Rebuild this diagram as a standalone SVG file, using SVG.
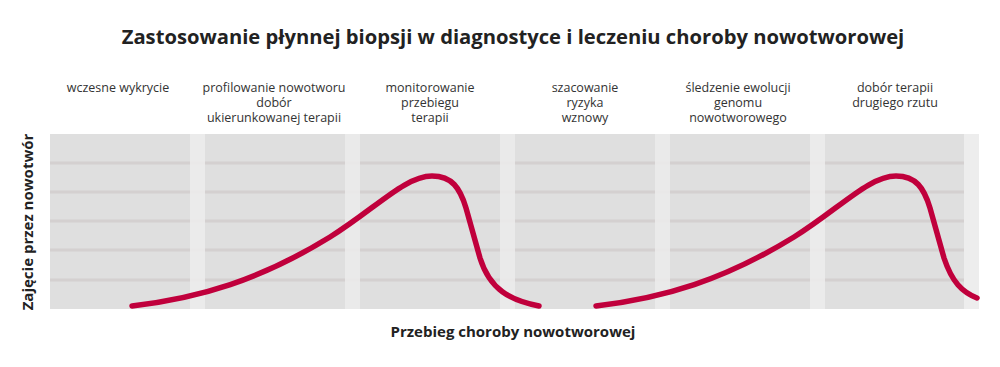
<svg xmlns="http://www.w3.org/2000/svg" width="1000" height="367" viewBox="0 0 1000 367">
<style>
.col{fill:#dfdfdf}
.strip{fill:#ededed}
.grid{stroke:#d4d0d0;stroke-width:3}
.lbl{font-family:"Open Sans","DejaVu Sans",sans-serif;font-size:12.5px;fill:#333;text-anchor:middle}
.ttl{font-family:"Open Sans","DejaVu Sans",sans-serif;font-size:20.2px;font-weight:bold;fill:#222;text-anchor:middle}
.ax{font-family:"Open Sans","DejaVu Sans",sans-serif;font-size:15px;font-weight:bold;fill:#222;text-anchor:middle}
.curve{fill:none;stroke:#c0003c;stroke-width:5.5;stroke-linecap:round;stroke-linejoin:round}
</style>
<rect width="1000" height="367" fill="#fff"/>
<text class="ttl" x="513" y="44">Zastosowanie płynnej biopsji w diagnostyce i leczeniu choroby nowotworowej</text>
<g id="chart">
<rect class="col" x="50" y="134" width="914" height="175"/>
<g>
<line class="grid" x1="50" y1="163" x2="964" y2="163"/>
<line class="grid" x1="50" y1="192" x2="964" y2="192"/>
<line class="grid" x1="50" y1="221" x2="964" y2="221"/>
<line class="grid" x1="50" y1="250" x2="964" y2="250"/>
<line class="grid" x1="50" y1="280" x2="964" y2="280"/>
</g>
<g opacity="0.85">
<rect class="strip" x="190" y="134" width="15" height="175"/>
<rect class="strip" x="345" y="134" width="15" height="175"/>
<rect class="strip" x="500" y="134" width="15" height="175"/>
<rect class="strip" x="655" y="134" width="15" height="175"/>
<rect class="strip" x="810" y="134" width="15" height="175"/>
</g>
<rect class="strip" x="964" y="134" width="15" height="175"/>
</g>
<g id="phase1"><text class="lbl" x="118" y="92">wczesne wykrycie</text></g>
<g id="phase2"><text class="lbl" x="274" y="92">profilowanie nowotworu<tspan x="274" dy="15">dobór</tspan><tspan x="274" dy="15">ukierunkowanej terapii</tspan></text></g>
<g id="phase3"><text class="lbl" x="430" y="92">monitorowanie<tspan x="430" dy="15">przebiegu</tspan><tspan x="430" dy="15">terapii</tspan></text></g>
<g id="phase4"><text class="lbl" x="585" y="92">szacowanie<tspan x="585" dy="15">ryzyka</tspan><tspan x="585" dy="15">wznowy</tspan></text></g>
<g id="phase5"><text class="lbl" x="738" y="92">śledzenie ewolucji<tspan x="738" dy="15">genomu</tspan><tspan x="738" dy="15">nowotworowego</tspan></text></g>
<g id="phase6"><text class="lbl" x="895" y="92">dobór terapii<tspan x="895" dy="15">drugiego rzutu</tspan></text></g>
<g id="connectors">
<path class="curve" d="M132,306 C200,298 260,280 330,237 C375,209 405,176 432,176 C452,176 460,188 466,208 L480,258 C490,290 510,300 539,306"/>
<path class="curve" d="M596,306 C664,298 724,280 794,237 C839,209 869,176 896,176 C916,176 924,188 930,208 L944,258 C952,282 962,292 977,298"/>
</g>
<text class="ax" transform="translate(33,222) rotate(-90)">Zajęcie przez nowotwór</text>
<text class="ax" x="513" y="337">Przebieg choroby nowotworowej</text>
</svg>
